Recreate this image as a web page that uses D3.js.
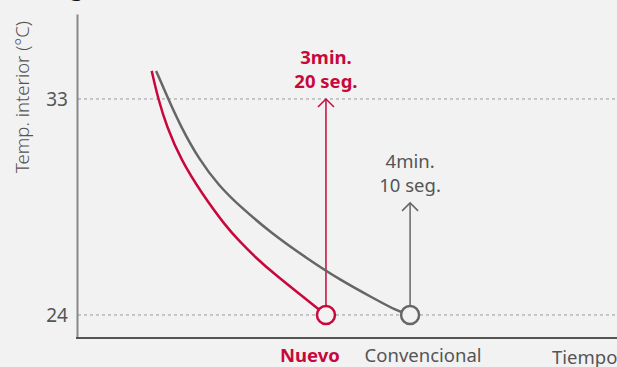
<!DOCTYPE html>
<html>
<head>
<meta charset="utf-8">
<script src="https://cdn.jsdelivr.net/npm/d3@7"></script>
<style>
  body { margin: 0; background: #f2f2f2; }
  text { font-family: "Noto Sans", "Open Sans", sans-serif; }
</style>
</head>
<body>
<script>
// time in seconds, temperature in °C
var nuevoT    = [96.4, 100.3, 105.3, 113.8, 126.1, 140.6, 148.9, 158.4, 168.7, 188.6, 194.9, 200];
var nuevoTemp = [34.17, 32.99, 31.85, 30.46, 29.07, 27.68, 27.05, 26.38, 25.74, 24.63, 24.28, 24];
var convT     = [99, 106.3, 113.7, 124.7, 136.4, 148.9, 167.3, 188.6, 208.4, 228.2, 242.1, 250];
var convTemp  = [34.17, 32.99, 31.85, 30.46, 29.38, 28.52, 27.42, 26.36, 25.46, 24.7, 24.17, 24];
var yTicks = [24, 33];
var names = ["Nuevo", "Convencional"];
var labels = [["3min.", "20 seg."], ["4min.", "10 seg."]];
var colors = ["#c8083c", "#666666"];

var w = 617, h = 367;

var svg = d3.select("body").append("svg")
  .attr("width", w)
  .attr("height", h);

var x = d3.scaleLinear().domain([52, 373]).range([77, 617]);
var y = d3.scaleLinear().domain([23.04, 36.54]).range([338, 14]);

// cut-off title descender
svg.append("text")
  .attr("x", 70).attr("y", -4)
  .attr("font-size", 22).attr("font-weight", "bold")
  .attr("fill", "#111")
  .text("g");

// gridlines
svg.selectAll("line.grid")
  .data(yTicks)
  .enter()
  .append("line")
  .attr("class", "grid")
  .attr("x1", 78).attr("x2", 617)
  .attr("y1", function(d) { return y(d); })
  .attr("y2", function(d) { return y(d); })
  .attr("stroke", "#999")
  .attr("stroke-dasharray", "3,3");

// y axis
var yAxis = svg.append("g")
  .attr("transform", "translate(77,0)")
  .call(d3.axisLeft(y).tickValues(yTicks).tickSize(0).tickPadding(9).tickFormat(d3.format("d")));
yAxis.select(".domain").attr("stroke", "#888").attr("stroke-width", 2);
yAxis.selectAll("text")
  .attr("font-size", 19)
  .attr("fill", "#555")
  .style("font-family", "'Noto Sans', sans-serif");

// x axis line
svg.append("line")
  .attr("x1", 76).attr("x2", 617)
  .attr("y1", 338).attr("y2", 338)
  .attr("stroke", "#555").attr("stroke-width", 2);

svg.append("text")
  .attr("transform", "translate(29,97) rotate(-90)")
  .attr("text-anchor", "middle")
  .attr("font-size", 18.5)
  .attr("font-weight", 300)
  .attr("fill", "#555")
  .text("Temp. interior (°C)");

svg.append("text")
  .attr("x", 552).attr("y", 364)
  .attr("font-size", 18.5)
  .attr("fill", "#555")
  .text("Tiempo");

var series = [
  { t: nuevoT, v: nuevoTemp },
  { t: convT, v: convTemp }
];

var line = d3.line()
  .x(function(d) { return x(d[0]); })
  .y(function(d) { return y(d[1]); })
  .curve(d3.curveBasis);

// arrow tips: new reaches 33 line, conventional shorter
var arrowTop = [33, 28.67];
var nameShift = [-16, 13];

series.forEach(function(s, i) {
  var pts = d3.zip(s.t, s.v);
  var end = pts[pts.length - 1];
  var cx = x(end[0]), cy = y(end[1]);
  var tip = y(arrowTop[i]);

  svg.append("path")
    .attr("d", line(pts))
    .attr("fill", "none")
    .attr("stroke", colors[i])
    .attr("stroke-width", 2.5);

  svg.append("line")
    .attr("x1", cx).attr("x2", cx)
    .attr("y1", cy - 9).attr("y2", tip)
    .attr("stroke", colors[i]).attr("stroke-width", 1.5);

  svg.append("path")
    .attr("d", "M" + (cx - 8) + "," + (tip + 8) + "L" + cx + "," + tip + "L" + (cx + 8) + "," + (tip + 8))
    .attr("fill", "none")
    .attr("stroke", colors[i]).attr("stroke-width", 1.5);

  svg.append("circle")
    .attr("cx", cx).attr("cy", cy).attr("r", 9)
    .attr("fill", "#f2f2f2")
    .attr("stroke", colors[i]).attr("stroke-width", 2.5);

  var lbl = svg.append("text")
    .attr("text-anchor", "middle")
    .attr("font-size", 18.5)
    .attr("font-weight", i === 0 ? "bold" : "normal")
    .attr("fill", i === 0 ? colors[0] : "#555");
  lbl.append("tspan").attr("x", cx).attr("y", tip - 35).text(labels[i][0]);
  lbl.append("tspan").attr("x", cx).attr("y", tip - 10.5).text(labels[i][1]);

  svg.append("text")
    .attr("x", cx + nameShift[i]).attr("y", 362)
    .attr("text-anchor", "middle")
    .attr("font-size", 18.5)
    .attr("font-weight", i === 0 ? "bold" : "normal")
    .attr("fill", i === 0 ? colors[0] : "#555")
    .text(names[i]);
});
</script>
</body>
</html>
